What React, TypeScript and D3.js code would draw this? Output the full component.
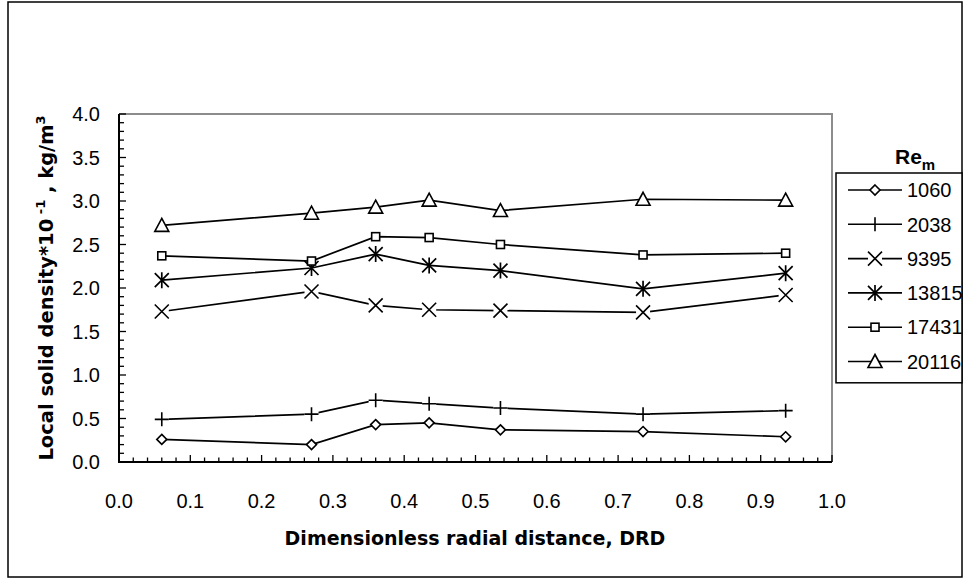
import React from "react";
import * as d3 from "d3";

const drd = [0.06, 0.27, 0.36, 0.435, 0.535, 0.735, 0.935];
const re1060 = [0.26, 0.2, 0.43, 0.45, 0.37, 0.35, 0.29];
const re2038 = [0.49, 0.55, 0.71, 0.67, 0.62, 0.55, 0.59];
const re9395 = [1.73, 1.96, 1.8, 1.75, 1.74, 1.72, 1.92];
const re13815 = [2.09, 2.23, 2.39, 2.26, 2.2, 1.99, 2.17];
const re17431 = [2.37, 2.31, 2.59, 2.58, 2.5, 2.38, 2.4];
const re20116 = [2.72, 2.86, 2.93, 3.01, 2.89, 3.02, 3.01];
const seriesNames = ["1060", "2038", "9395", "13815", "17431", "20116"];
const markerKinds = ["diamond", "plus", "x", "star", "square", "triangle"];
const xTicks = [0, 0.1, 0.2, 0.3, 0.4, 0.5, 0.6, 0.7, 0.8, 0.9, 1.0];
const yTicks = [0, 0.5, 1, 1.5, 2, 2.5, 3, 3.5, 4];

const seriesValues = [re1060, re2038, re9395, re13815, re17431, re20116];

const W = 965;
const H = 579;
const PL = 119, PR = 832, PT = 114, PB = 462;

function Marker({ kind, cx, cy }: { kind: string; cx: number; cy: number }) {
  const s = { stroke: "#000", strokeWidth: 1.6, fill: "#fff" } as const;
  switch (kind) {
    case "diamond": {
      const r = 5;
      return <path d={`M${cx},${cy - r}L${cx + r},${cy}L${cx},${cy + r}L${cx - r},${cy}Z`} {...s} />;
    }
    case "square": {
      const r = 4;
      return <rect x={cx - r} y={cy - r} width={2 * r} height={2 * r} {...s} />;
    }
    case "triangle": {
      const w = 7, h = 12;
      return <path d={`M${cx},${cy - h / 2 - 1}L${cx + w},${cy + h / 2}L${cx - w},${cy + h / 2}Z`} {...s} />;
    }
    case "plus": {
      const r = 7;
      return (
        <g>
          <rect x={cx - r} y={cy - 3} width={2 * r} height={6} fill="#fff" />
          <path d={`M${cx - r},${cy}L${cx + r},${cy}M${cx},${cy - r}L${cx},${cy + r}`} stroke="#000" strokeWidth={1.6} fill="none" />
        </g>
      );
    }
    case "x": {
      const r = 7;
      return (
        <g>
          <rect x={cx - r} y={cy - 4} width={2 * r} height={8} fill="#fff" />
          <path d={`M${cx - r},${cy - r}L${cx + r},${cy + r}M${cx - r},${cy + r}L${cx + r},${cy - r}`} stroke="#000" strokeWidth={1.6} fill="none" />
        </g>
      );
    }
    case "star": {
      const r = 7;
      return (
        <path
          d={`M${cx - r},${cy - r}L${cx + r},${cy + r}M${cx - r},${cy + r}L${cx + r},${cy - r}M${cx},${cy - r - 1}L${cx},${cy + r + 1}`}
          stroke="#000"
          strokeWidth={1.7}
          fill="none"
        />
      );
    }
  }
  return null;
}

export default function App() {
  const x = d3.scaleLinear().domain([0, 1]).range([PL, PR]);
  const y = d3.scaleLinear().domain([0, 4]).range([PB, PT]);
  const line = d3
    .line<[number, number]>()
    .x((d) => x(d[0]))
    .y((d) => y(d[1]));

  const xMinor = d3.range(0, 1.0001, 0.02);
  const yMinor = d3.range(0, 4.0001, 0.1);
  const tickFont = "'Liberation Sans', Arial, sans-serif";
  const titleFont = "'DejaVu Sans', Verdana, sans-serif";

  const legX = 836;
  const legTop = 173;
  const rowH = 34.3;

  return (
    <svg width={W} height={H} style={{ position: "absolute", left: 0, top: 0, background: "#fff" }}>
      <rect x={8} y={2} width={954} height={575} fill="#fff" stroke="#000" strokeWidth={1.5} />
      {/* plot border top & right */}
      <path d={`M${PL},${PT}L${PR},${PT}L${PR},${PB}`} fill="none" stroke="#8c8c8c" strokeWidth={2} />
      {/* axes */}
      <path d={`M${PL},${PT}L${PL},${PB}L${PR},${PB}`} fill="none" stroke="#000" strokeWidth={2} />
      {yMinor.map((v, i) => (
        <line key={"ym" + i} x1={PL} x2={PL + (i % 5 === 0 ? 7 : 5)} y1={y(v)} y2={y(v)} stroke="#000" strokeWidth={1.3} />
      ))}
      {xMinor.map((v, i) => (
        <line key={"xm" + i} x1={x(v)} x2={x(v)} y1={PB} y2={PB - (i % 5 === 0 ? 7 : 4.5)} stroke="#000" strokeWidth={1.3} />
      ))}
      {yTicks.map((v) => (
        <text key={"yl" + v} x={100} y={y(v)} dy="0.36em" textAnchor="end" fontFamily={tickFont} fontSize={20}>
          {v.toFixed(1)}
        </text>
      ))}
      {xTicks.map((v) => (
        <text key={"xl" + v} x={x(v)} y={501} dy="0.36em" textAnchor="middle" fontFamily={tickFont} fontSize={20}>
          {v.toFixed(1)}
        </text>
      ))}
      {/* axis titles */}
      <text x={475} y={538} dy="0.36em" textAnchor="middle" fontFamily={titleFont} fontWeight="bold" fontSize={19}>
        Dimensionless radial distance, DRD
      </text>
      <text transform={`translate(53,${(PT + PB) / 2}) rotate(-90)`} textAnchor="middle" fontFamily={titleFont} fontWeight="bold" fontSize={19.5}>
        Local solid density*10
        <tspan dy={-8} fontSize={13}> -1</tspan>
        <tspan dy={8}> , kg/m</tspan>
        <tspan dy={-8} fontSize={13}>3</tspan>
      </text>
      {/* series */}
      {seriesValues.map((vals, si) => {
        const pts = drd.map((d, i) => [d, vals[i]] as [number, number]);
        return (
          <g key={"s" + si}>
            <path d={line(pts) || ""} fill="none" stroke="#000" strokeWidth={1.7} />
            {pts.map((p, i) => (
              <Marker key={i} kind={markerKinds[si]} cx={x(p[0])} cy={y(p[1])} />
            ))}
          </g>
        );
      })}
      {/* legend */}
      <text x={895} y={156} dy="0.36em" fontFamily={tickFont} fontWeight="bold" fontSize={21}>
        Re<tspan dy={6} fontSize={15}>m</tspan>
      </text>
      <rect x={legX} y={legTop} width={126} height={rowH * 6 + 4} fill="#fff" stroke="#000" strokeWidth={1.5} />
      {seriesNames.map((n, i) => {
        const cy = legTop + 17 + i * rowH;
        return (
          <g key={"l" + i}>
            <line x1={848} x2={902} y1={cy} y2={cy} stroke="#000" strokeWidth={1.6} />
            <Marker kind={markerKinds[i]} cx={875} cy={cy} />
            <text x={907} y={cy} dy="0.36em" fontFamily={tickFont} fontSize={20}>
              {n}
            </text>
          </g>
        );
      })}
    </svg>
  );
}
